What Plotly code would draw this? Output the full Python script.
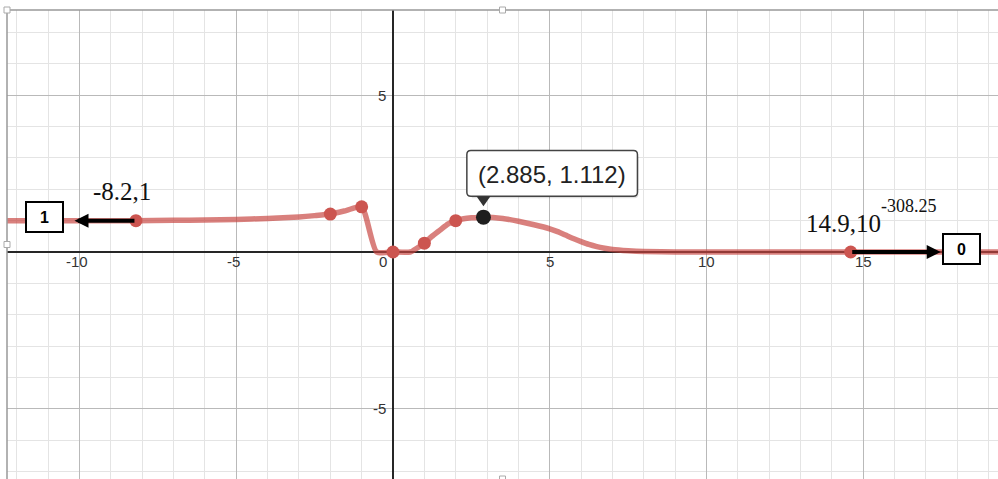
import plotly.graph_objects as go

# curve
curve_x = [-12.4, -8.2, -7, -6, -5, -4, -3, -2.5, -2, -1.5, -1, -0.52, 0, 0.55, 0.76, 1,
           1.23, 1.5, 1.76, 2, 2.25, 2.5, 2.885, 3.5, 4, 4.5, 5, 5.25, 5.5, 5.75, 6, 6.25,
           6.5, 6.75, 7, 7.5, 8, 9, 14.6, 19.5]
curve_y = [1, 1, 1.01, 1.02, 1.04, 1.07, 1.12, 1.16, 1.21, 1.32, 1.44, 0, 0, 0, 0.12, 0.28,
           0.49, 0.7, 0.9, 1.0, 1.06, 1.09, 1.112, 1.07, 0.98, 0.87, 0.74, 0.65, 0.54, 0.43,
           0.33, 0.24, 0.17, 0.12, 0.08, 0.04, 0.015, 0, 0, 0]

# marked points
dot_x = [-8.2, -2, -1, 0, 1, 2, 14.6]
dot_y = [1, 1.21, 1.44, 0, 0.28, 1.0, 0]

peak_x = [2.885]
peak_y = [1.112]
peak_label = "(2.885, 1.112)"

x_ticks = [-10, -5, 0, 5, 10, 15]
y_ticks = [5, -5]

left_label = "-8.2,1"
right_label = "14.9,10"
right_sup = "-308.25"
left_limit = "1"
right_limit = "0"

SANS = "Arial, Liberation Sans, sans-serif"
SERIF = "Times New Roman, Liberation Serif, serif"

fig = go.Figure()
fig.add_trace(go.Scatter(x=curve_x, y=curve_y, mode="lines",
                         line=dict(color="rgba(199,68,64,0.68)", width=5.5,
                                   shape="spline", smoothing=0.6),
                         hoverinfo="skip"))
fig.add_trace(go.Scatter(x=dot_x, y=dot_y, mode="markers",
                         marker=dict(color="#cc5550", size=13)))
fig.add_trace(go.Scatter(x=peak_x, y=peak_y, mode="markers",
                         marker=dict(color="#1e1e1e", size=15)))

# tick labels sit next to the axes, desmos style
for t in x_ticks:
    if t == 0:
        fig.add_annotation(x=0, y=0, text="0", showarrow=False, xshift=-10, yshift=-10,
                           font=dict(family=SANS, size=15, color="#333"))
    else:
        fig.add_annotation(x=t, y=0, text=str(t), showarrow=False,
                           xshift=-3 if t < 0 else 0, yshift=-10,
                           font=dict(family=SANS, size=15, color="#333"))
for t in y_ticks:
    fig.add_annotation(x=0, y=t, text=str(t), showarrow=False, xanchor="right", xshift=-5,
                       font=dict(family=SANS, size=15, color="#333"))

# arrows to the limit boxes
lx, ly = dot_x[0], dot_y[0]
rx, ry = dot_x[-1], dot_y[-1]
fig.add_annotation(x=lx - 1.96, y=ly, ax=lx, ay=ly, axref="x", ayref="y",
                   showarrow=True, arrowhead=2, arrowsize=0.7, arrowwidth=4,
                   arrowcolor="black", text="", standoff=0)
fig.add_annotation(x=rx + 2.87, y=ry, ax=rx, ay=ry, axref="x", ayref="y",
                   showarrow=True, arrowhead=2, arrowsize=0.7, arrowwidth=4,
                   arrowcolor="black", text="", standoff=0)

box = dict(showarrow=False, bgcolor="white", bordercolor="black", borderwidth=2,
           borderpad=0, width=35, height=28,
           font=dict(family=SANS, size=16, color="black"))
fig.add_annotation(x=-11.12, y=1.12, text="<b>" + left_limit + "</b>", **box)
fig.add_annotation(x=18.14, y=0.1, text="<b>" + right_limit + "</b>", **box)

# handwritten-ish labels
fig.add_annotation(x=lx, y=ly, text=left_label, showarrow=False, xshift=-14, yshift=29,
                   font=dict(family=SERIF, size=25, color="#111"))
fig.add_annotation(x=rx, y=ry, text=right_label, showarrow=False, xshift=-7, yshift=28,
                   font=dict(family=SERIF, size=25, color="#111"))
fig.add_annotation(x=rx, y=ry, text=right_sup, showarrow=False, xshift=58, yshift=46,
                   font=dict(family=SERIF, size=18, color="#111"))

# tooltip over the maximum
x0, x1, yb, yt, r = -16.6, 154, 21, 66.7, 4
box_path = (f"M{x0+r},{yb} L{x1-r},{yb} Q{x1},{yb} {x1},{yb+r} L{x1},{yt-r} "
            f"Q{x1},{yt} {x1-r},{yt} L{x0+r},{yt} Q{x0},{yt} {x0},{yt-r} "
            f"L{x0},{yb+r} Q{x0},{yb} {x0+r},{yb} Z")
shadow_path = (f"M{x0+r+1},{yb-2} L{x1-r+1},{yb-2} Q{x1+1},{yb-2} {x1+1},{yb+r-2} "
               f"L{x1+1},{yt-r-2} L{x0+1},{yt-r-2} Z")
tip = dict(type="path", xref="x", yref="y", xsizemode="pixel", ysizemode="pixel",
           xanchor=peak_x[0], yanchor=peak_y[0], layer="above")
fig.add_shape(path=shadow_path, fillcolor="rgba(0,0,0,0.12)", line=dict(width=0), **tip)
fig.add_shape(path=box_path, fillcolor="white", line=dict(color="#444", width=1.5), **tip)
fig.add_shape(path="M-7,21 L7,21 L0,11 Z", fillcolor="#333", line=dict(width=0), **tip)
fig.add_annotation(x=peak_x[0], y=peak_y[0], text=peak_label, showarrow=False,
                   xshift=68.7, yshift=43, font=dict(family=SANS, size=24, color="#222"))

# frame on the left/top edge plus the little resize handles
fig.add_shape(type="line", xref="paper", yref="paper", x0=0, y0=0, x1=0, y1=1,
              line=dict(color="#999", width=1.5))
fig.add_shape(type="line", xref="paper", yref="paper", x0=0, y0=1, x1=1, y1=1,
              line=dict(color="#999", width=1.5))
for hx, hy in [(0, 1), (0.5, 1), (0, 0.5), (0.5, 0)]:
    fig.add_shape(type="rect", xref="paper", yref="paper", xsizemode="pixel",
                  ysizemode="pixel", xanchor=hx, yanchor=hy, x0=-3, x1=3, y0=-3, y1=3,
                  fillcolor="white", line=dict(color="#aaa", width=1), layer="above")

axis = dict(showticklabels=False, ticks="", showline=False, zeroline=True,
            zerolinecolor="#262626", zerolinewidth=2, tick0=0, dtick=5,
            showgrid=True, gridcolor="#b9b9b9", gridwidth=1,
            minor=dict(dtick=1, showgrid=True, gridcolor="#e4e4e4", gridwidth=1))
fig.update_xaxes(range=[-12.313, 19.298], **axis)
fig.update_yaxes(range=[-7.241, 7.719], **axis)
fig.update_layout(width=998, height=479, showlegend=False,
                  margin=dict(l=7, r=0, t=10, b=0),
                  plot_bgcolor="white", paper_bgcolor="white")

# the page's default body margin would push the figure 8px down/right
fig.write_html("out.html", config={"displayModeBar": False},
               post_script="document.body.style.margin='0';")
